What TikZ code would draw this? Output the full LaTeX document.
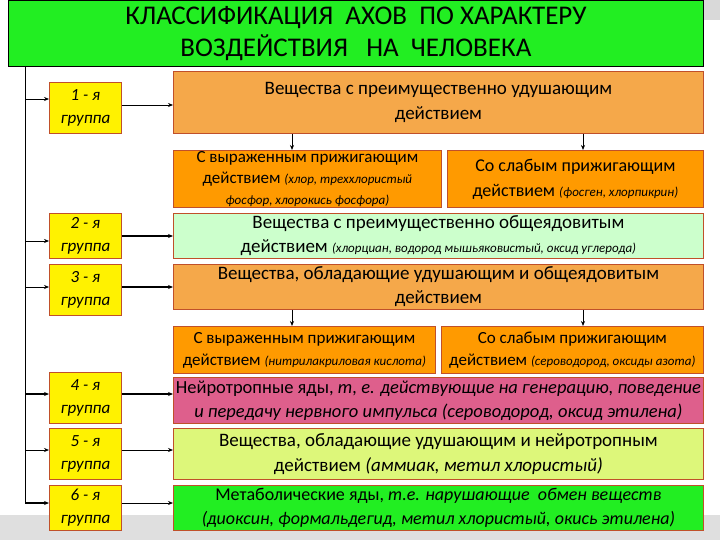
\documentclass[tikz,border=0pt]{standalone}
\usepackage{fontspec}
\setmainfont{Carlito}
\usetikzlibrary{arrows.meta}
\newcommand\smi{\fontsize{13}{14}\selectfont\itshape}
\definecolor{ttl}{HTML}{22EE22}
\definecolor{org}{HTML}{F5A84A}
\definecolor{org2}{HTML}{FF9A00}
\definecolor{lgr}{HTML}{CCFFCC}
\definecolor{pnk}{HTML}{DE5F8C}
\definecolor{lyg}{HTML}{DDF77A}
\definecolor{grn}{HTML}{22EE22}
\definecolor{bord}{HTML}{C0502A}
\tikzset{
  box/.style={draw=bord,line width=0.8pt,inner sep=1pt,align=center,font=\fontsize{19}{25}\selectfont},
  grp/.style={draw=bord,line width=0.8pt,fill=yellow,minimum width=72pt,align=center,font=\fontsize{17}{23}\selectfont\itshape},
  arr/.style={-{Stealth[length=5pt,width=4pt]},line width=0.7pt},
  tarr/.style={-{Stealth[length=5pt,width=4pt]},line width=1.6pt}
}
\begin{document}
\begin{tikzpicture}[x=1pt,y=-1pt]
\useasboundingbox (0,0) rectangle (720,540);
\fill[gray!25] (0,515) rectangle (720,540);
\fill[gray!30] (700,0) rectangle (720,20);
% title
\node[draw=black,fill=ttl,line width=0.8pt,minimum width=695pt,minimum height=66pt,anchor=north west,align=center,font=\fontsize{27}{32}\selectfont] (t) at (8,0) {КЛАССИФИКАЦИЯ\ \ АХОВ\ \ ПО\ ХАРАКТЕРУ\\ВОЗДЕЙСТВИЯ\ \ \ НА\ \ ЧЕЛОВЕКА};
% main boxes
\node[box,fill=org,minimum width=530pt,minimum height=62pt,anchor=north west] (m1) at (173,71) {Вещества с преимущественно удушающим\\действием};
\node[box,fill=org2,minimum width=268pt,minimum height=57pt,anchor=north west,font=\fontsize{17}{21}\selectfont] (s1a) at (173,150) {С выраженным прижигающим\\действием {\smi (хлор, треххлористый}\\{\smi фосфор, хлорокись фосфора)}};
\node[box,fill=org2,minimum width=256pt,minimum height=57pt,anchor=north west,font=\fontsize{18}{25}\selectfont] (s1b) at (447,150) {Со слабым прижигающим\\действием {\smi (фосген, хлорпикрин)}};
\node[box,fill=lgr,minimum width=530pt,minimum height=45pt,anchor=north west,font=\fontsize{19}{24}\selectfont] (m2) at (173,213) {Вещества с преимущественно общеядовитым\\действием {\smi (хлорциан, водород мышьяковистый, оксид углерода)}};
\node[box,fill=org,minimum width=530pt,minimum height=45pt,anchor=north west,font=\fontsize{19}{24}\selectfont] (m3) at (173,264) {Вещества, обладающие удушающим и общеядовитым\\действием};
\node[box,fill=org2,minimum width=262pt,minimum height=47pt,anchor=north west,inner sep=0pt,font=\fontsize{17}{22}\selectfont] (s3a) at (173,326) {С выраженным прижигающим\\действием {\smi (нитрилакриловая кислота)}};
\node[box,fill=org2,minimum width=262pt,minimum height=47pt,anchor=north west,inner sep=0pt,font=\fontsize{17}{22}\selectfont] (s3b) at (441,326) {Со слабым прижигающим\\действием {\smi (сероводород, оксиды азота)}};
\node[box,fill=pnk,minimum width=530pt,minimum height=46pt,anchor=north west,inner sep=0pt,font=\fontsize{18.5}{24}\selectfont] (m4) at (173,377) {Нейротропные яды, {\itshape т, е. действующие на генерацию, поведение}\\{\itshape и передачу нервного импульса (сероводород, оксид этилена)}};
\node[box,fill=lyg,minimum width=530pt,minimum height=51pt,anchor=north west] (m5) at (173,428) {Вещества, обладающие удушающим и нейротропным\\действием {\itshape(аммиак, метил хлористый)}};
\node[box,fill=grn,minimum width=530pt,minimum height=45pt,anchor=north west,font=\fontsize{18}{24}\selectfont] (m6) at (173,485) {Метаболические яды, {\itshape т.е. нарушающие\ \ обмен веществ}\\{\itshape (диоксин, формальдегид, метил хлористый, окись этилена)}};
% groups
\node[grp,minimum height=51pt,anchor=north west] (g1) at (49,82) {1 - я\\группа};
\node[grp,minimum height=45pt,anchor=north west] (g2) at (49,213) {2 - я\\группа};
\node[grp,minimum height=51pt,anchor=north west] (g3) at (49,264) {3 - я\\группа};
\node[grp,minimum height=51pt,anchor=north west] (g4) at (49,372) {4 - я\\группа};
\node[grp,minimum height=51pt,anchor=north west] (g5) at (49,428) {5 - я\\группа};
\node[grp,minimum height=45pt,anchor=north west] (g6) at (49,485) {6 - я\\группа};
% spine
\coordinate (top) at (25,66);
\coordinate (bot) at (25,503);
\draw[line width=0.8pt] (top) -- (bot);
\draw[arr] (25,99) -- (g1.west|-25,99);
\draw[arr] (25,241) -- (g2.west|-25,241);
\draw[arr] (25,287) -- (g3.west|-25,287);
\draw[tarr] (25,394) -- (g4.west|-25,394);
\draw[arr] (25,450) -- (g5.west|-25,450);
\draw[tarr] (bot) -- (g6.west|-25,503);
% group to main
\draw[arr] (g1.east|-0,105) -- (m1.west|-0,105);
\draw[tarr] (g2.east|-0,236) -- (m2.west|-0,236);
\draw[tarr] (g3.east|-0,287) -- (m3.west|-0,287);
\draw[tarr] (g4.east|-0,394) -- (m4.west|-0,394);
\draw[arr] (g5.east|-0,450) -- (m5.west|-0,450);
\draw[arr] (g6.east|-0,503) -- (m6.west|-0,503);
% down arrows
\draw[arr] (m1.south-|292,0) -- (s1a.north-|292,0);
\draw[arr] (m1.south-|583,0) -- (s1b.north-|583,0);
\draw[arr] (m3.south-|292,0) -- (s3a.north-|292,0);
\draw[arr] (m3.south-|583,0) -- (s3b.north-|583,0);
\end{tikzpicture}
\end{document}
